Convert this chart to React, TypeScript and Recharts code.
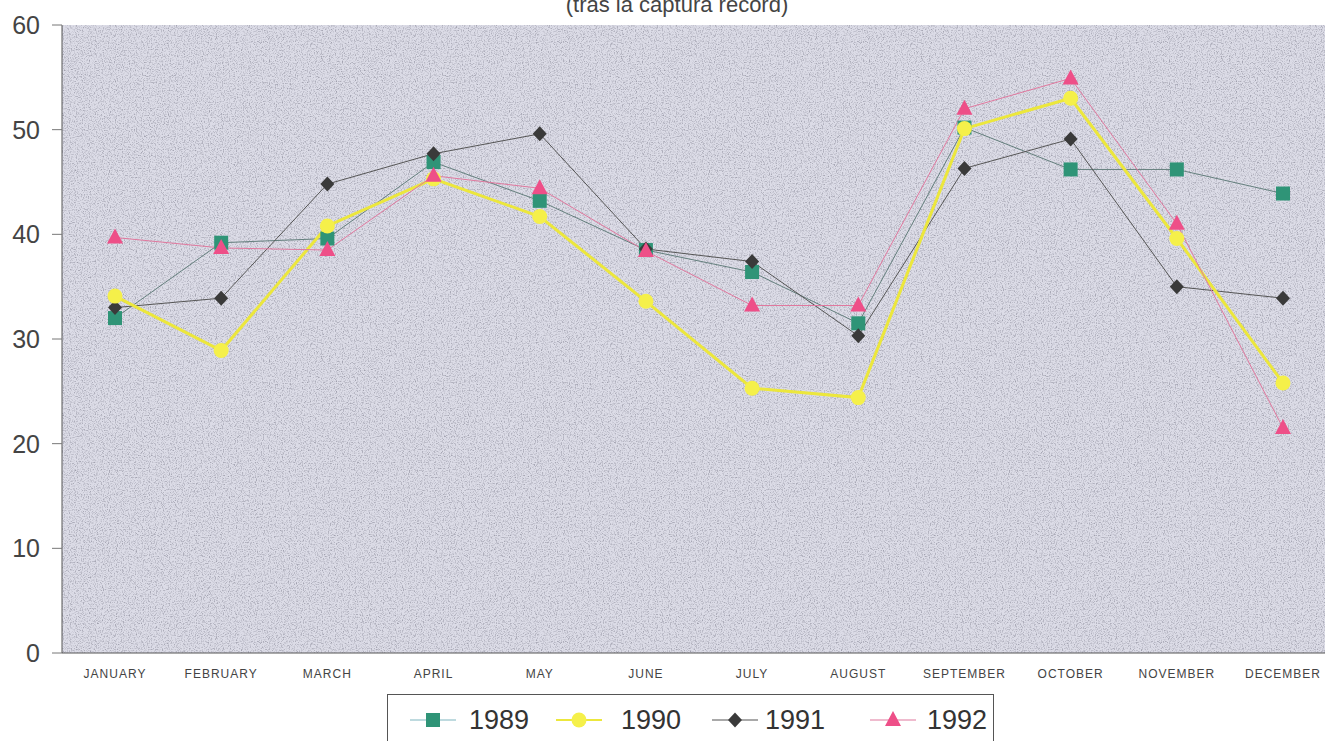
import React from "react";
import { LineChart, Line, XAxis, YAxis, CartesianGrid } from "recharts";

const months = ["JANUARY", "FEBRUARY", "MARCH", "APRIL", "MAY", "JUNE", "JULY", "AUGUST", "SEPTEMBER", "OCTOBER", "NOVEMBER", "DECEMBER"];
const s1989 = [32, 39.2, 39.6, 46.9, 43.2, 38.5, 36.4, 31.5, 50.2, 46.2, 46.2, 43.9];
const s1990 = [34.1, 28.9, 40.8, 45.3, 41.7, 33.6, 25.3, 24.4, 50.1, 53, 39.6, 25.8];
const s1991 = [33, 33.9, 44.8, 47.7, 49.6, 38.6, 37.4, 30.3, 46.3, 49.1, 35, 33.9];
const s1992 = [39.7, 38.7, 38.5, 45.6, 44.4, 38.4, 33.2, 33.2, 52, 54.9, 41, 21.5];
const yTicks = [0, 10, 20, 30, 40, 50, 60];
const title = "(tras la captura record)";

const data = months.map((m, i) => ({ month: m, y1989: s1989[i], y1990: s1990[i], y1991: s1991[i], y1992: s1992[i] }));

type Shape = "square" | "circle" | "diamond" | "triangle";

const Marker = ({ shape, cx, cy, fill }: { shape: Shape; cx: number; cy: number; fill: string }) => {
  if (shape === "square") return <rect x={cx - 7} y={cy - 7} width={14} height={14} fill={fill} />;
  if (shape === "circle") return <circle cx={cx} cy={cy} r={7.5} fill={fill} />;
  if (shape === "diamond") return <polygon points={`${cx},${cy - 7.5} ${cx + 7},${cy} ${cx},${cy + 7.5} ${cx - 7},${cy}`} fill={fill} />;
  return <polygon points={`${cx},${cy - 9} ${cx + 8},${cy + 6} ${cx - 8},${cy + 6}`} fill={fill} />;
};

const series = [
  { key: "y1989", name: "1989", line: "#647f7d", width: 1, marker: "#2f9477", shape: "square" as Shape },
  { key: "y1991", name: "1991", line: "#555", width: 1, marker: "#3a3a3a", shape: "diamond" as Shape },
  { key: "y1990", name: "1990", line: "#ece73c", width: 3, marker: "#f5f04a", shape: "circle" as Shape },
  { key: "y1992", name: "1992", line: "#e0789e", width: 1, marker: "#ee4f88", shape: "triangle" as Shape },
];
const legendOrder = ["y1989", "y1990", "y1991", "y1992"];
const legendMarkerX = [45, 191, 347, 505];
const legendTextX = [81, 233, 377, 539];

const dotRenderer = (shape: Shape, fill: string) => (props: any) => {
  const { cx, cy, index } = props;
  if (cx == null || cy == null) return <g key={index} />;
  return <g key={index}><Marker shape={shape} cx={cx} cy={cy} fill={fill} /></g>;
};

const font = "'Liberation Sans', Arial, sans-serif";

export default function App() {
  return (
    <div style={{ position: "absolute", left: 0, top: 0, width: 1325, height: 741, overflow: "hidden", background: "#fff", fontFamily: font }}>
      <svg width={0} height={0} style={{ position: "absolute" }}>
        <defs>
          <filter id="speckle" x="0" y="0" width="100%" height="100%">
            <feTurbulence type="fractalNoise" baseFrequency="0.85" numOctaves="2" seed="4" result="t" />
            <feColorMatrix type="matrix" values="0 0 0 0 0.35  0 0 0 0 0.35  0 0 0 0 0.42  2.6 0 0 0 -1.2" />
          </filter>
          <pattern id="bgpat" patternUnits="userSpaceOnUse" width="300" height="300">
            <rect width="300" height="300" fill="#dcdce7" />
            <rect width="300" height="300" filter="url(#speckle)" />
          </pattern>
        </defs>
      </svg>
      <div style={{ position: "absolute", left: 0, top: -6, width: 1354, textAlign: "center", fontSize: 22, lineHeight: "22px", color: "#444" }}>{title}</div>
      <LineChart width={1340} height={741} data={data} margin={{ top: 25, right: 4, bottom: 58, left: 0 }}>
        <CartesianGrid horizontal={false} vertical={false} fill="url(#bgpat)" fillOpacity={1} />
        <XAxis dataKey="month" height={30} tickLine={false} tickMargin={10} stroke="#555" interval={0}
          padding={{ left: 53, right: 53 }}
          tick={{ fontSize: 12, fill: "#444", letterSpacing: 1, fontFamily: font }} />
        <YAxis domain={[0, 60]} ticks={yTicks} width={62} tickSize={10} tickMargin={12} stroke="#555"
          tickLine={{ stroke: "#777" }} tick={{ fontSize: 25, fill: "#444", fontFamily: font }} />
        {series.map((s) => (
          <Line key={s.key} dataKey={s.key} name={s.name} type="linear" stroke={s.line} strokeWidth={s.width}
            dot={dotRenderer(s.shape, s.marker)} activeDot={false} isAnimationActive={false} />
        ))}
      </LineChart>
      <div style={{ position: "absolute", left: 387, top: 694, width: 607, height: 60, border: "1.5px solid #555", boxSizing: "border-box", background: "#fff" }}>
        {legendOrder.map((k, i) => {
          const s = series.find((x) => x.key === k)!;
          return (
            <React.Fragment key={k}>
              <svg width={48} height={30} style={{ position: "absolute", left: legendMarkerX[i] - 24, top: 10 }}>
                <line x1={1} y1={15} x2={47} y2={15} stroke={s.key === "y1989" ? "#7fb6c0" : s.line} strokeWidth={s.key === "y1990" ? 2 : 1.2} />
                <Marker shape={s.shape} cx={24} cy={15} fill={s.marker} />
              </svg>
              <span style={{ position: "absolute", left: legendTextX[i], top: 10, fontSize: 27, color: "#333", lineHeight: "30px" }}>{s.name}</span>
            </React.Fragment>
          );
        })}
      </div>
    </div>
  );
}
